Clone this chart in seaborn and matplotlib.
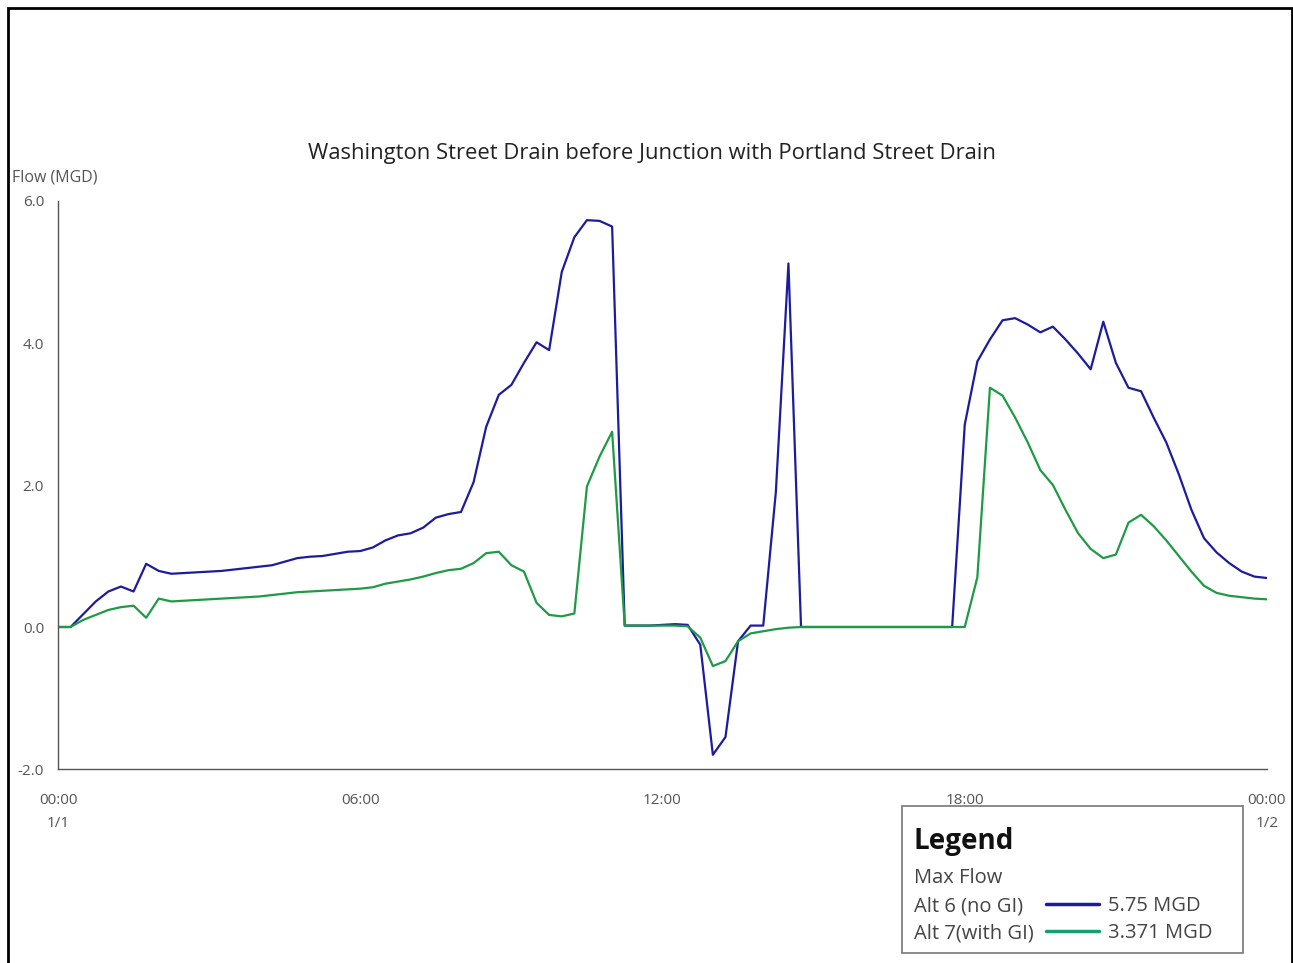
import numpy as np
import pandas as pd
import matplotlib.pyplot as plt
import seaborn as sns
from matplotlib.patches import Rectangle
from matplotlib.lines import Line2D
from matplotlib.ticker import MultipleLocator

# 15-minute time steps over one day (hours)
hours = np.arange(0, 24.01, 0.25)

alt6_flow = [
    0.00, 0.00, 0.18, 0.36, 0.50, 0.57, 0.50, 0.89, 0.79, 0.75,
    0.76, 0.77, 0.78, 0.79, 0.81, 0.83, 0.85, 0.87, 0.92, 0.97,
    0.99, 1.00, 1.03, 1.06, 1.07, 1.12, 1.22, 1.29, 1.32, 1.40,
    1.54, 1.59, 1.62, 2.04, 2.82, 3.27, 3.41, 3.72, 4.01, 3.90,
    5.00, 5.49, 5.73, 5.72, 5.64, 0.02, 0.02, 0.02, 0.03, 0.04,
    0.03, -0.25, -1.80, -1.55, -0.20, 0.02, 0.02, 1.90, 5.12, 0.00,
    0.00, 0.00, 0.00, 0.00, 0.00, 0.00, 0.00, 0.00, 0.00, 0.00,
    0.00, 0.00, 2.85, 3.74, 4.05, 4.32, 4.35, 4.26, 4.15, 4.23,
    4.05, 3.85, 3.63, 4.30, 3.72, 3.37, 3.32, 2.95, 2.60, 2.15,
    1.65, 1.25, 1.05, 0.90, 0.78, 0.71, 0.69,
]

alt7_flow = [
    0.00, 0.00, 0.10, 0.17, 0.24, 0.28, 0.30, 0.13, 0.40, 0.36,
    0.37, 0.38, 0.39, 0.40, 0.41, 0.42, 0.43, 0.45, 0.47, 0.49,
    0.50, 0.51, 0.52, 0.53, 0.54, 0.56, 0.61, 0.64, 0.67, 0.71,
    0.76, 0.80, 0.82, 0.90, 1.04, 1.06, 0.87, 0.78, 0.34, 0.17,
    0.15, 0.19, 1.98, 2.40, 2.75, 0.02, 0.02, 0.02, 0.02, 0.02,
    0.01, -0.15, -0.55, -0.48, -0.20, -0.09, -0.06, -0.03, -0.01, 0.00,
    0.00, 0.00, 0.00, 0.00, 0.00, 0.00, 0.00, 0.00, 0.00, 0.00,
    0.00, 0.00, 0.00, 0.70, 3.37, 3.26, 2.95, 2.60, 2.21, 2.00,
    1.65, 1.32, 1.10, 0.97, 1.02, 1.47, 1.58, 1.42, 1.22, 1.00,
    0.78, 0.58, 0.48, 0.44, 0.42, 0.40, 0.39,
]

series_names = ["Alt 6 (no GI)", "Alt 7(with GI)"]
max_labels = ["5.75 MGD", "3.371 MGD"]
colors = ["#1c1c9c", "#1f9a45"]
legend_colors = ["#1c1c9c", "#14a070"]

x_ticks = [0, 6, 12, 18, 24]
x_tick_labels = ["00:00\n1/1", "06:00", "12:00", "18:00", "00:00\n1/2"]
y_ticks = [-2.0, 0.0, 2.0, 4.0, 6.0]

df = pd.DataFrame({
    "hour": np.concatenate([hours, hours]),
    "flow": alt6_flow + alt7_flow,
    "series": [series_names[0]] * len(hours) + [series_names[1]] * len(hours),
})

sns.set_style("white")
plt.rcParams["font.family"] = ["Open Sans", "DejaVu Sans"]

W, H = 1293, 963
fig = plt.figure(figsize=(W / 100, H / 100), dpi=100)
ax = fig.add_axes([58 / W, 1 - 769 / H, (1267 - 58) / W, (769 - 201) / H])

sns.lineplot(
    data=df, x="hour", y="flow", hue="series", hue_order=series_names,
    palette=dict(zip(series_names, colors)), linewidth=1.6, legend=False, ax=ax,
)

ax.set_xlim(0, 24)
ax.set_ylim(-2, 6)
ax.set_xticks(x_ticks)
ax.set_xticklabels(x_tick_labels, linespacing=1.8)
ax.xaxis.set_minor_locator(MultipleLocator(3))
ax.set_yticks(y_ticks)
ax.set_yticklabels([f"{v:.1f}" for v in y_ticks])
ax.yaxis.set_minor_locator(MultipleLocator(0.4))
ax.set_xlabel("")
ax.set_ylabel("")

for side in ["top", "right"]:
    ax.spines[side].set_visible(False)
for side in ["left", "bottom"]:
    ax.spines[side].set_color("#555555")
    ax.spines[side].set_linewidth(1.0)

ax.tick_params(axis="both", which="major", direction="inout", length=10,
               width=1, color="#555555", labelsize=11, labelcolor="#555555")
ax.tick_params(axis="both", which="minor", direction="out", length=4,
               width=0.8, color="#888888")
ax.tick_params(axis="x", which="major", pad=12)
ax.tick_params(axis="y", which="major", pad=5)

fig.text(652 / W, 1 - 153 / H,
         "Washington Street Drain before Junction with Portland Street Drain",
         ha="center", va="center", fontsize=15.8, color="#222222")
fig.text(12 / W, 1 - 178 / H, "Flow (MGD)", ha="left", va="center",
         fontsize=11.5, color="#555555")

# outer frame of the screenshot
fig.patches.append(Rectangle((8 / W, -0.02), (1292 - 8) / W, (963 - 8) / H + 0.02,
                             transform=fig.transFigure, fill=False,
                             edgecolor="black", linewidth=2))

# custom legend box
fig.patches.append(Rectangle((902 / W, 1 - 953 / H), (1243 - 902) / W, (953 - 806) / H,
                             transform=fig.transFigure, facecolor="white",
                             edgecolor="#777777", linewidth=1.2, zorder=5))
fig.text(914 / W, 1 - 841 / H, "Legend", ha="left", va="center",
         fontsize=20, fontweight="bold", color="#111111", zorder=6)
fig.text(914 / W, 1 - 878 / H, "Max Flow", ha="left", va="center",
         fontsize=14.5, color="#444444", zorder=6)
for i, (name, lab, col) in enumerate(zip(series_names, max_labels, legend_colors)):
    y = 1 - (906 + 27 * i) / H
    fig.text(914 / W, y, name, ha="left", va="center",
             fontsize=14.5, color="#444444", zorder=6)
    fig.lines.append(Line2D([1046 / W, 1099 / W], [y + 2 / H, y + 2 / H],
                            transform=fig.transFigure, color=col,
                            linewidth=2.5, zorder=6))
    fig.text(1108 / W, y, lab, ha="left", va="center",
             fontsize=14.5, color="#444444", zorder=6)

plt.savefig("out.png", dpi=100)
plt.close()
